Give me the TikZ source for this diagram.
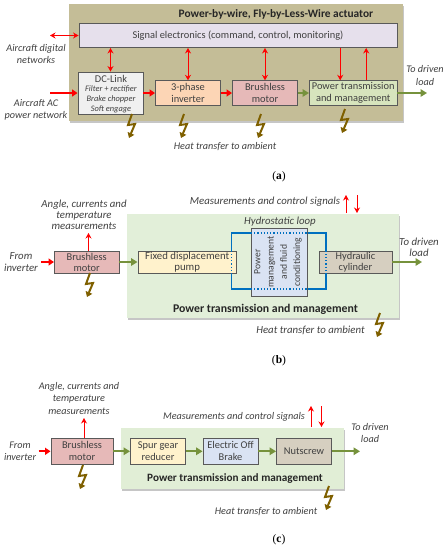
\documentclass[tikz,border=0pt]{standalone}
\usepackage{fontspec}
\setmainfont{Carlito}
\newfontfamily\capfont{Liberation Serif}
\usetikzlibrary{arrows.meta, shadows}
\definecolor{textgray}{HTML}{404040}
\definecolor{boxline}{HTML}{595959}
\definecolor{khaki}{HTML}{C4BD97}
\definecolor{lilac}{HTML}{E6E0EC}
\definecolor{linkgray}{HTML}{F0F0F0}
\definecolor{peach}{HTML}{FCD5B5}
\definecolor{rose}{HTML}{E6B9B8}
\definecolor{leaf}{HTML}{D7E4BD}
\definecolor{pale}{HTML}{E2EFD9}
\definecolor{cream}{HTML}{FFF2CC}
\definecolor{sky}{HTML}{DAE3F3}
\definecolor{stone}{HTML}{D6CFC0}
\definecolor{shaftgreen}{HTML}{76923C}
\definecolor{heatbrown}{HTML}{7F6000}
\definecolor{loopblue}{HTML}{0070C0}

\begin{document}
\begin{tikzpicture}[
    x=1pt, y=-1pt,
    panel/.style   = {draw=none, drop shadow={opacity=0.45, shadow xshift=1.2pt, shadow yshift=-1.5pt}},
    block/.style   = {draw=boxline, line width=0.9pt, align=center, inner sep=0pt, text=textgray, font=\fontsize{10.4}{12}\selectfont},
    note/.style    = {align=center, inner sep=0pt, text=textgray, font=\fontsize{10.2}{12.2}\selectfont\itshape},
    noteb/.style   = {note, font=\fontsize{10.8}{11.2}\selectfont\itshape},
    heading/.style = {inner sep=0pt, text=black!85, font=\fontsize{11.4}{12}\selectfont\bfseries},
    caption/.style = {inner sep=0pt, font=\fontsize{11.5}{12}\selectfont\capfont},
    feed/.style    = {-{Stealth[length=5.5pt,width=6pt]}, red, line width=1pt},
    feedboth/.style= {{Stealth[length=5.5pt,width=6pt]}-{Stealth[length=5.5pt,width=6pt]}, red, line width=1pt},
    power/.style   = {-{Triangle[length=5.5pt,width=7pt]}, red, line width=2.2pt},
    shaft/.style   = {-{Triangle[length=6.5pt,width=7.5pt]}, shaftgreen, line width=2pt},
    heat/.style    = {-{Triangle[length=5pt,width=7pt]}, heatbrown, line width=2pt},
    loopline/.style= {loopblue, line width=1.2pt},
    loopdots/.style= {loopblue, line width=1.2pt, dotted}
  ]
  \useasboundingbox (0,0) rectangle (448,550);

  % (a) backing panel and blocks
  \fill[panel, khaki] (69,4) rectangle (403,121);
  \node[heading] (titleA) at (276,14.5) {Power-by-wire, Fly-by-Less-Wire actuator};
  \node[block, fill=lilac, minimum width=318pt, minimum height=24pt] (signalA) at (238,35.5) {Signal electronics (command, control, monitoring)};
  \node[block, fill=linkgray, minimum width=65pt, minimum height=42pt] (linkA) at (110.5,93) {};
  \node[block, draw=none] (linkTitle) at (111,79) {DC-Link};
  \node[note, font=\fontsize{8.4}{9.9}\selectfont\itshape] (linkText) at (111,99.5) {Filter + rectifier\\ Brake chopper\\ Soft engage};
  \node[block, fill=peach, minimum width=65pt, minimum height=24.5pt] (inverterA) at (188,93) {3-phase\\ inverter};
  \node[block, fill=rose, minimum width=65pt, minimum height=24.5pt] (motorA) at (265,93) {Brushless\\ motor};
  \node[block, fill=leaf, minimum width=87.5pt, minimum height=24.5pt] (transA) at (353.2,93) {Power transmission\\ and management};

  % (a) signal lines
  \coordinate (digitalIn) at (50,35.5);
  \coordinate (acIn) at (50,93);
  \coordinate (loadA) at (427,93);
  \draw[feedboth] (digitalIn) -- (signalA);
  \draw[feedboth] (linkA.north) -- (linkA.north |- signalA.south);
  \draw[feedboth] (inverterA.north) -- (inverterA.north |- signalA.south);
  \draw[feedboth] (motorA.north) -- (motorA.north |- signalA.south);
  \draw[feed] ([xshift=-13pt]transA.north |- signalA.south) -- ([xshift=-13pt]transA.north);
  \draw[feed] ([xshift=13pt]transA.north) -- ([xshift=13pt]transA.north |- signalA.south);

  % (a) power flow
  \draw[power] (acIn) -- (linkA);
  \draw[power] (linkA) -- (inverterA);
  \draw[power] (inverterA) -- (motorA);
  \draw[shaft] (motorA) -- (transA);
  \draw[shaft] (transA) -- (loadA);

  % (a) heat
  \foreach \hx/\hy in {132/114, 184/114, 261/114, 345/109}
    \draw[heat] (\hx,\hy) -- ++(-4,11) -- ++(7,-1) -- ++(-6,14);

  % (a) labels
  \node[note] (digitalText) at (36,54) {Aircraft digital\\ networks};
  \node[note] (acText) at (36,110) {Aircraft AC\\ power network};
  \node[note] (heatTextA) at (225,147) {Heat transfer to ambient};
  \node[note] (loadTextA) at (425,75.5) {To driven\\ load};
  \node[caption] (capA) at (279,177) {(\textbf{a})};

  % (b) backing panel and blocks
  \fill[panel, pale] (127,214) rectangle (399,318);
  \node[block, fill=rose, minimum width=64.5pt, minimum height=22pt, font=\fontsize{10.4}{11}\selectfont] (motorB) at (86.7,262) {Brushless\\ motor};
  \node[block, fill=cream, minimum width=98.5pt, minimum height=22pt, font=\fontsize{10.8}{11}\selectfont] (pumpB) at (187.2,262) {Fixed displacement\\ pump};
  \node[block, fill=stone, minimum width=73pt, minimum height=22pt, font=\fontsize{10.4}{11}\selectfont] (cylinderB) at (355.5,262) {Hydraulic\\ cylinder};
  \node[block, fill=sky, minimum width=56pt, minimum height=68pt] (mgmtB) at (279.5,262) {};
  \node[block, draw=none, font=\fontsize{9.6}{13.2}\selectfont, rotate=90] (mgmtText) at (278,262) {Power\\ management\\ and fluid\\ conditioning};

  % (b) hydrostatic loop
  \coordinate (loopNW) at (231.5,233);
  \coordinate (loopSE) at (326,289);
  \draw[loopline] (pumpB.north -| loopNW) -- (loopNW) -- (mgmtB.west |- loopNW);
  \draw[loopline] (pumpB.south -| loopNW) -- (loopNW |- loopSE) -- (mgmtB.west |- loopSE);
  \draw[loopline] (mgmtB.east |- loopNW) -- (loopSE |- loopNW) -- (cylinderB.north -| loopSE);
  \draw[loopline] (mgmtB.east |- loopSE) -- (loopSE) -- (cylinderB.south -| loopSE);
  \draw[loopdots] (pumpB.north -| loopNW) -- (pumpB.south -| loopNW);
  \draw[loopdots] (cylinderB.north -| loopSE) -- (cylinderB.south -| loopSE);
  \draw[loopdots] (mgmtB.west |- loopNW) -- (mgmtB.east |- loopNW);
  \draw[loopdots] (mgmtB.west |- loopSE) -- (mgmtB.east |- loopSE);

  % (b) arrows
  \coordinate (inverterIn) at (41,262);
  \coordinate (loadB) at (422,262);
  \coordinate (angleB) at (88.5,233);
  \coordinate (measUpB) at (346,195);
  \coordinate (measDownB) at (357,195);
  \draw[power] (inverterIn) -- (motorB);
  \draw[shaft] (motorB) -- (pumpB);
  \draw[shaft] (cylinderB) -- (loadB);
  \draw[feed] (motorB.north -| angleB) -- (angleB);
  \draw[feed] (measUpB |- 0,213) -- (measUpB);
  \draw[feed] (measDownB) -- (measDownB |- 0,213);
  \foreach \hx/\hy in {90/273, 380/313}
    \draw[heat] (\hx,\hy) -- ++(-4,11) -- ++(7,-1) -- ++(-6,14);

  % (b) labels
  \node[noteb] (angleTextB) at (84,215) {Angle, currents and\\ temperature\\ measurements};
  \node[noteb] (fromTextB) at (21,262) {From\\ inverter};
  \node[noteb] (measTextB) at (265,202) {Measurements and control signals};
  \node[noteb] (loopText) at (280,222) {Hydrostatic loop};
  \node[noteb] (loadTextB) at (419,247) {To driven\\ load};
  \node[heading, font=\fontsize{11.8}{12}\selectfont\bfseries] (titleB) at (265.5,309) {Power transmission and management};
  \node[noteb] (heatTextB) at (310.5,330) {Heat transfer to ambient};
  \node[caption] (capB) at (279,361) {(\textbf{b})};

  % (c) backing panel and blocks
  \fill[panel, pale!90!leaf] (120.5,428) rectangle (344,489);
  \node[block, fill=rose, minimum width=62pt, minimum height=25.5pt] (motorC) at (82,451.3) {Brushless\\ motor};
  \node[block, fill=cream, minimum width=55pt, minimum height=25.5pt] (spurC) at (158,451.3) {Spur gear\\ reducer};
  \node[block, fill=sky, minimum width=55pt, minimum height=25.5pt] (brakeC) at (230.5,451.3) {Electric Off\\ Brake};
  \node[block, fill=stone, minimum width=55pt, minimum height=25.5pt] (screwC) at (304,451.3) {Nutscrew};

  % (c) arrows
  \coordinate (inverterInC) at (38.5,451.3);
  \coordinate (loadC) at (360,451.3);
  \coordinate (angleC) at (84,418);
  \coordinate (measUpC) at (311,406);
  \coordinate (measDownC) at (321.5,406);
  \draw[power] (inverterInC) -- (motorC);
  \draw[shaft] (motorC) -- (spurC);
  \draw[shaft] (spurC) -- (brakeC);
  \draw[shaft] (brakeC) -- (screwC);
  \draw[shaft] (screwC) -- (loadC);
  \draw[feed] (motorC.north -| angleC) -- (angleC);
  \draw[feed] (measUpC |- 0,427) -- (measUpC);
  \draw[feed] (measDownC) -- (measDownC |- 0,427);
  \foreach \hx/\hy in {83/465, 329/486}
    \draw[heat] (\hx,\hy) -- ++(-4,11) -- ++(7,-1) -- ++(-6,14);

  % (c) labels
  \node[note, font=\fontsize{10.2}{12.5}\selectfont\itshape] (angleTextC) at (79,398) {Angle, currents and\\ temperature\\ measurements};
  \node[note] (fromTextC) at (20,451.5) {From\\ inverter};
  \node[note] (measTextC) at (234,417) {Measurements and control signals};
  \node[note] (loadTextC) at (370,433) {To driven\\ load};
  \node[heading, font=\fontsize{11.2}{12}\selectfont\bfseries] (titleC) at (235,479) {Power transmission and management};
  \node[note] (heatTextC) at (266,512) {Heat transfer to ambient};
  \node[caption] (capC) at (279,540) {(\textbf{c})};
\end{tikzpicture}
\end{document}
